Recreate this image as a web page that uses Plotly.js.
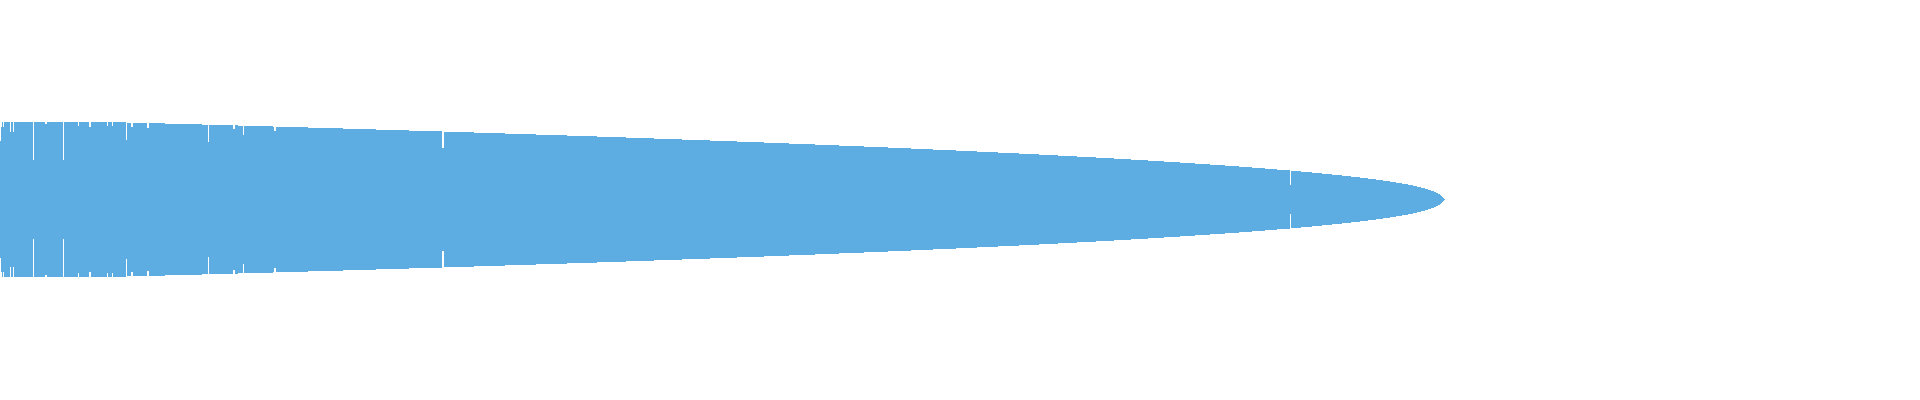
<!DOCTYPE html>
<html>
<head>
<meta charset="utf-8">
<script src="https://cdn.plot.ly/plotly-3.0.1.min.js"></script>
<style>
  html, body { margin: 0; padding: 0; background: #fff; }
  #chart { width: 1920px; height: 400px; }
</style>
</head>
<body>
<div id="chart"></div>
<script>
// band outline: where each step of the band starts, and its full thickness there
var stepStart = [0, 127, 165, 202, 238, 273, 308, 343, 376, 409,
  442, 474, 505, 536, 567, 597, 626, 654, 682, 710,
  737, 764, 789, 815, 839, 864, 888, 911, 933, 956,
  977, 998, 1019, 1039, 1058, 1077, 1096, 1114, 1131, 1148,
  1164, 1180, 1195, 1210, 1225, 1239, 1252, 1265, 1277, 1291,
  1301, 1312, 1322, 1332, 1342, 1351, 1360, 1368, 1376, 1383,
  1390, 1396, 1402, 1408, 1413, 1417, 1421, 1425, 1428, 1431,
  1434, 1436, 1438, 1440, 1441, 1442, 1443, 1444];
var stepValue = [155, 153, 151, 149, 147, 145, 143, 141, 139, 137,
  135, 133, 131, 129, 127, 125, 123, 121, 119, 117,
  115, 113, 111, 109, 107, 105, 103, 101, 99, 97,
  95, 93, 91, 89, 87, 85, 83, 81, 79, 77,
  75, 73, 71, 69, 67, 65, 63, 61, 59, 57,
  55, 53, 51, 49, 47, 45, 43, 41, 39, 37,
  35, 33, 31, 29, 27, 25, 23, 21, 19, 17,
  15, 13, 11, 9, 7, 5, 3, 1];
var bandEnd = 1445;

// single positions that drop below the outline
var dipAt = [0, 1, 3, 10, 13, 33, 45, 46, 63, 78, 89, 90, 107, 112,
  126, 131, 132, 147, 148, 208, 233, 234, 243, 274, 275, 442, 443, 1290];
var dipValue = [117, 145, 145, 135, 135, 79, 151, 151, 79, 147, 145, 145, 147, 147,
  119, 145, 145, 143, 143, 115, 141, 141, 129, 137, 137, 103, 103, 29];

function stepValueAt(pos) {
  var v = stepValue[0];
  for (var i = 0; i < stepStart.length; i++) {
    if (stepStart[i] <= pos) v = stepValue[i];
  }
  return v;
}

var cuts = stepStart.concat(dipAt, dipAt.map(function (d) { return d + 1; }), [bandEnd]);
cuts = cuts.filter(function (c, i) { return cuts.indexOf(c) === i; })
  .sort(function (a, b) { return a - b; });

var segX = [], segW = [], segV = [], segBase = [];
for (var i = 0; i < cuts.length - 1; i++) {
  var a = cuts[i];
  var k = dipAt.indexOf(a);
  var v = k >= 0 ? dipValue[k] : stepValueAt(a);
  segX.push(a);
  segW.push(cuts[i + 1] - a);
  segV.push(v);
  segBase.push(-v / 2);
}

var band = {
  x: segX,
  y: segV,
  base: segBase,
  width: segW,
  offset: 0,
  type: 'bar',
  marker: { color: '#5DADE2', line: { width: 0 } },
  hoverinfo: 'skip'
};

var layout = {
  width: 1920,
  height: 400,
  margin: { l: 0, r: 0, t: 0, b: 0, pad: 0 },
  paper_bgcolor: '#ffffff',
  plot_bgcolor: '#ffffff',
  showlegend: false,
  bargap: 0,
  xaxis: { range: [0, 1920], visible: false, fixedrange: true },
  yaxis: { range: [-200.5, 199.5], visible: false, fixedrange: true }
};

Plotly.newPlot('chart', [band], layout, { displayModeBar: false, staticPlot: true });
</script>
</body>
</html>
